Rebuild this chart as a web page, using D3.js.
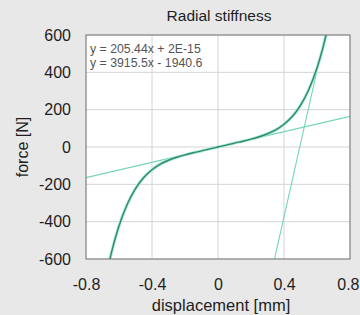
<!DOCTYPE html>
<html><head><meta charset="utf-8">
<script src="https://cdn.jsdelivr.net/npm/d3@7/dist/d3.min.js"></script>
<style>body{margin:0;background:#e8e8e8;} svg{display:block;}</style>
</head><body>
<svg id="c" width="360" height="315"></svg>
<script>
// Measured curve (displacement mm, force N)
const dispData = [-0.66,-0.64,-0.62,-0.6,-0.55,-0.5,-0.45,-0.4,-0.35,-0.3,-0.25,-0.2,-0.15,-0.1,-0.05,0,0.05,0.1,0.15,0.2,0.25,0.3,0.35,0.4,0.45,0.5,0.55,0.6,0.62,0.64,0.66];
const forceData = [-618,-546,-481,-423,-307,-223,-163,-122,-92,-71,-55,-42,-31,-21,-10,0,10,21,31,42,55,71,92,122,163,223,307,423,481,546,618];
// Fitted lines: slope, intercept
const lineSlopes = [205.44, 3915.5];
const lineIntercepts = [2e-15, -1940.6];
const lineLabels = ["y = 205.44x + 2E-15", "y = 3915.5x - 1940.6"];
const xTicks = [-0.8,-0.4,0,0.4,0.8];
const yTicks = [-600,-400,-200,0,200,400,600];

const FONT = "Arial, 'Liberation Sans', sans-serif";
const svg = d3.select("#c");
const L=86, R=350, T=35, B=259;
const x = d3.scaleLinear().domain([-0.8,0.8]).range([L,R]);
const y = d3.scaleLinear().domain([-600,600]).range([B,T]);

svg.append("rect").attr("x",L).attr("y",T).attr("width",R-L).attr("height",B-T).attr("fill","#fff");
// grid
svg.append("g").selectAll("line").data(xTicks).join("line")
  .attr("x1",d=>x(d)).attr("x2",d=>x(d)).attr("y1",T).attr("y2",B)
  .attr("stroke","#d4d4d4").attr("stroke-width",1);
svg.append("g").selectAll("line").data(yTicks).join("line")
  .attr("y1",d=>y(d)).attr("y2",d=>y(d)).attr("x1",L).attr("x2",R)
  .attr("stroke","#d4d4d4").attr("stroke-width",1);

svg.append("clipPath").attr("id","clip").append("rect").attr("x",L).attr("y",T).attr("width",R-L).attr("height",B-T);
const g = svg.append("g").attr("clip-path","url(#clip)");
// fitted lines
lineSlopes.forEach((m,i)=>{
  const b = lineIntercepts[i];
  g.append("line").attr("x1",x(-0.8)).attr("y1",y(m*-0.8+b)).attr("x2",x(0.8)).attr("y2",y(m*0.8+b))
   .attr("stroke","#74d6b5").attr("stroke-width",1.1);
});
const pts = dispData.map((d,i)=>[d,forceData[i]]);
const ln = d3.line().x(d=>x(d[0])).y(d=>y(d[1])).curve(d3.curveMonotoneX);
g.append("path").datum(pts).attr("fill","none").attr("stroke","#a6e8d2").attr("stroke-width",3).attr("d",ln);
g.append("path").datum(pts).attr("fill","none").attr("stroke","#2f8a6d").attr("stroke-width",1.4).attr("d",ln);

svg.append("rect").attr("x",L).attr("y",T).attr("width",R-L).attr("height",B-T)
  .attr("fill","none").attr("stroke","#777").attr("stroke-width",1);

const fmtX = d => d===0 ? "0" : d3.format(".1f")(d).replace("\u2212","-");
const fmtY = d => String(d);
// axes
const xa = svg.append("g").attr("transform",`translate(0,${B})`)
  .call(d3.axisBottom(x).tickValues(xTicks).tickSize(0).tickPadding(20).tickFormat(fmtX));
const ya = svg.append("g").attr("transform",`translate(${L},0)`)
  .call(d3.axisLeft(y).tickValues(yTicks).tickSize(0).tickPadding(15).tickFormat(fmtY));
[xa,ya].forEach(a=>{a.select(".domain").remove();
  a.selectAll("text").attr("font-family",FONT).attr("font-size",16).attr("fill","#1e1e1e");});
// keep the last x label inside the window
xa.selectAll(".tick text").filter(d=>d===0.8).attr("text-anchor","end").attr("x",359-x(0.8)+0);

svg.append("text").attr("x",219).attr("y",21).attr("text-anchor","middle")
  .attr("font-family",FONT).attr("font-size",15.5).attr("fill","#1e1e1e").text("Radial stiffness");
svg.append("text").attr("x",221).attr("y",311).attr("text-anchor","middle")
  .attr("font-family",FONT).attr("font-size",16.5).attr("fill","#1e1e1e").text("displacement [mm]");
svg.append("text").attr("transform","translate(28,147) rotate(-90)").attr("text-anchor","middle")
  .attr("font-family",FONT).attr("font-size",16).attr("fill","#1e1e1e").text("force [N]");

svg.append("g").selectAll("text").data(lineLabels).join("text")
  .attr("x",90).attr("y",(d,i)=>53+i*13.5)
  .attr("font-family",FONT).attr("font-size",12.3).attr("fill","#555").text(d=>d);
</script>
</body></html>
